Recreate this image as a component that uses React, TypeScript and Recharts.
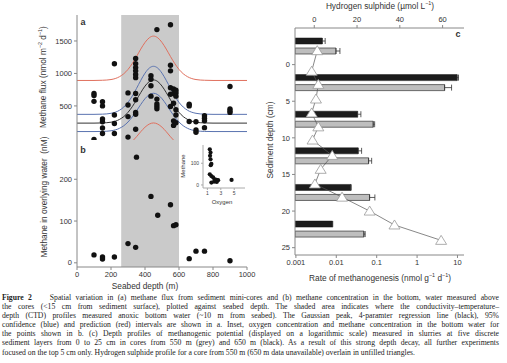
import React from 'react';
import { ComposedChart, ScatterChart, Scatter, Line, Bar, ErrorBar, XAxis, YAxis, ReferenceArea } from 'recharts';

const SANS = '"Liberation Sans", Arial, sans-serif';
const SERIF = '"Liberation Serif", "Times New Roman", serif';

// panel a: methane flux from mini-cores
const fluxDepth = [
  100, 100, 100, 100,
  150, 150, 150, 150, 150, 150,
  220, 220, 220, 220,
  300, 300, 300, 300,
  345, 345, 345, 345, 345, 345, 345, 345, 345, 345, 345,
  435, 435, 435, 435,
  470, 470, 470, 470, 470,
  550, 550, 550, 550, 550, 550,
  568, 568, 568, 568, 568,
  582, 582, 582, 582, 582, 582,
  660, 660, 660,
  700, 700, 700,
  750, 750, 750, 750,
  900, 900, 900, 900,
];
const fluxValue = [
  690, 660, 570, -15,
  565, 500, 300, 255, 160, 75,
  1150, 360, 230, 75,
  700, 515, 335, 20,
  1230, 1150, 1090, 1040, 985, 935, 690, 595, 400, 370, 140,
  965, 910, 810, 650,
  1675, 605, 530, 490, 455,
  1750, 1125, 1040, 780, 680, 490,
  760, 690, 540, 270, 200,
  740, 700, 650, 440, 360, 240,
  525, 500, 260,
  255, 130, 95,
  350, 310, 270, 165,
  800, 455, 425, 400,
];

// gaussian fit and intervals
const curveDepth = [0, 100, 150, 200, 250, 275, 300, 325, 350, 375, 400, 425, 450, 475, 500, 525, 550, 575, 600, 625, 650, 700, 750, 800, 900, 1000];
const fitCurve = [235, 235, 238, 249, 292, 335, 401, 488, 593, 705, 805, 875, 900, 875, 805, 705, 593, 488, 401, 335, 292, 249, 238, 235, 235, 235];
const ciUpper = [370, 370, 373, 386, 433, 482, 554, 652, 769, 893, 1004, 1082, 1110, 1082, 1004, 893, 769, 652, 554, 482, 433, 386, 373, 370, 370, 370];
const ciLower = [105, 105, 107, 117, 155, 194, 252, 330, 423, 522, 611, 673, 695, 673, 611, 522, 423, 330, 252, 194, 155, 117, 107, 105, 105, 105];
const piUpper = [892, 892, 895, 906, 950, 995, 1062, 1152, 1260, 1375, 1477, 1549, 1575, 1549, 1477, 1375, 1260, 1152, 1062, 995, 950, 906, 895, 892, 892, 892];
const piLower = [-223, -223, -221, -213, -184, -153, -108, -47, 25, 103, 172, 220, 238, 220, 172, 103, 25, -47, -108, -153, -184, -213, -221, -223, -223, -223];

// panel b: methane in overlying water
const waterDepth = [100, 150, 150, 220, 300, 345, 350, 435, 475, 550, 568, 582, 660, 700, 750, 900];
const waterCH4 = [19, 14, 9, 14, 46, 37, 253, 159, 114, 139, 89, 91, 10, 28, 28, 5];

// inset: oxygen vs methane
const insetO2 = [1.36, 1.47, 1.4, 1.47, 1.6, 1.5, 1.36, 1.6, 1.85, 2.1, 2.35, 2.0, 2.4, 2.6, 1.6, 4.6];
const insetCH4 = [164, 149, 134, 118, 97, 91, 49, 41, 35, 26, 23, 15, 14, 22, 11, 23];

// panel c: methanogenesis rates and sulphide
const layerDepth = [-2.5, 2.5, 7.5, 12.5, 17.5, 22.5];
const rate650 = [0.0045, 9.8, 0.0337, 0.0348, 0.023, 0.0081];
const err650 = [0.0008, 0.8, 0.0069, 0.0075, 0, 0];
const rate550 = [0.0098, 4.8, 0.082, 0.063, 0.0667, 0.0482];
const err550 = [0.0025, 2.34, 0.007, 0.012, 0.0235, 0.0037];
const sulphideDepth = [-1.9, 0.9, 2.7, 4.7, 6.6, 8.5, 10.3, 12.4, 14.3, 16.3, 18.1, 20.0, 21.9, 24.0];
const sulphide = [1.4, -1.2, 1.9, 0.8, -1.2, 1.9, -0.8, 8.4, 3.0, 0.3, 13.0, 25.9, 37.5, 59.3];

const captionLines = [
  'Spatial variation in (a) methane flux from sediment mini-cores and (b) methane concentration in the bottom, water measured above',
  'the cores (<15 cm from sediment surface), plotted against seabed depth. The shaded area indicates where the conductivity–temperature–',
  'depth (CTD) profiles measured anoxic bottom water (~10 m from seabed). The Gaussian peak, 4-paramter regression line (black), 95%',
  'confidence (blue) and prediction (red) intervals are shown in a. Inset, oxygen concentration and methane concentration in the bottom water for',
  'the points shown in b. (c) Depth profiles of methanogenic potential (displayed on a logarithmic scale) measured in slurries at five discrete',
  'sediment layers from 0 to 25 cm in cores from 550 m (grey) and 650 m (black). As a result of this strong depth decay, all further experiments',
  'focused on the top 5 cm only. Hydrogen sulphide profile for a core from 550 m (650 m data unavailable) overlain in unfilled triangles.',
];

const curveRows = curveDepth.map((depth, i) => ({
  depth, fit: fitCurve[i], ciUp: ciUpper[i], ciLo: ciLower[i], piUp: piUpper[i], piLo: piLower[i],
}));
const fluxRows = fluxDepth.map((depth, i) => ({ depth, flux: fluxValue[i] }));
const waterRows = waterDepth.map((depth, i) => ({ depth, ch4: waterCH4[i] }));
const insetRows = insetO2.map((o2, i) => ({ o2, ch4: insetCH4[i] }));
const rateRows = layerDepth.map((depth, i) => ({
  depth, black: rate650[i], blackErr: [0, err650[i]], grey: rate550[i], greyErr: [0, err550[i]],
}));
const sulphideRows = sulphideDepth.map((depth, i) => ({ depth, h2s: sulphide[i] }));

const AXIS = { stroke: '#888', strokeWidth: 1 };
const TICK = { fontSize: 7.5, fill: '#333', fontFamily: SANS };
const SMALL_TICK = { fontSize: 5, fill: '#444', fontFamily: SANS };

const dot = (r: number) => (p: any) => <circle cx={p.cx} cy={p.cy} r={r} fill="#111" />;
const triangle = (p: any) => (
  <polygon
    points={`${p.cx},${p.cy - 5} ${p.cx + 5.5},${p.cy + 4} ${p.cx - 5.5},${p.cy + 4}`}
    fill="#fff"
    stroke="#999"
    strokeWidth={0.8}
  />
);

const Txt = ({ x, y, size = 8.3, rot = false, bold = false, children }: any) => (
  <div
    style={{
      position: 'absolute', left: x, top: y, whiteSpace: 'nowrap', lineHeight: 1,
      transform: `translate(-50%, -50%)${rot ? ' rotate(-90deg)' : ''}`,
      fontSize: size, fontFamily: SANS, fontWeight: bold ? 700 : 400, color: '#333',
    }}
  >
    {children}
  </div>
);
const Sup = ({ children }: any) => <sup style={{ fontSize: '0.65em', lineHeight: 0 }}>{children}</sup>;

export default function App() {
  return (
    <div style={{ position: 'absolute', left: 0, top: 0, width: 507, height: 363, background: '#fff', overflow: 'hidden' }}>
      {/* panel a */}
      <div style={{ position: 'absolute', left: 0, top: 0 }}>
        <ComposedChart width={260} height={140} data={curveRows} margin={{ top: 15, right: 13, bottom: 0, left: 0 }}>
          <ReferenceArea x1={260} x2={600} fill="#cacaca" fillOpacity={1} stroke="none" />
          <XAxis dataKey="depth" type="number" domain={[0, 1000]} orientation="top" height={0} tick={false} tickLine={false} axisLine={AXIS} />
          <YAxis dataKey="flux" type="number" domain={[-25, 1900]} allowDataOverflow ticks={[0, 500, 1000, 1500]} width={77} tick={TICK} tickSize={3} tickMargin={2} axisLine={AXIS} tickLine={AXIS} />
          <YAxis yAxisId="frame" orientation="right" type="number" domain={[0, 1]} width={0} tick={false} tickLine={false} axisLine={AXIS} />
          <Line dataKey="piUp" type="monotone" stroke="#e0705e" strokeWidth={1} dot={false} isAnimationActive={false} />
          <Line dataKey="piLo" type="monotone" stroke="#e0705e" strokeWidth={1} dot={false} isAnimationActive={false} />
          <Line dataKey="ciUp" type="monotone" stroke="#5a73b0" strokeWidth={1} dot={false} isAnimationActive={false} />
          <Line dataKey="ciLo" type="monotone" stroke="#5a73b0" strokeWidth={1} dot={false} isAnimationActive={false} />
          <Line dataKey="fit" type="monotone" stroke="#333" strokeWidth={1} dot={false} isAnimationActive={false} />
          <Scatter data={fluxRows} dataKey="flux" shape={dot(2.7)} isAnimationActive={false} />
        </ComposedChart>
      </div>

      {/* panel b */}
      <div style={{ position: 'absolute', left: 0, top: 140 }}>
        <ComposedChart width={260} height={152} margin={{ top: 0, right: 13, bottom: 0, left: 0 }}>
          <ReferenceArea x1={260} x2={600} fill="#cacaca" fillOpacity={1} stroke="none" />
          <XAxis dataKey="depth" type="number" domain={[0, 1000]} ticks={[0, 200, 400, 600, 800, 1000]} height={25} tick={TICK} tickSize={3} tickMargin={2} axisLine={AXIS} tickLine={AXIS} />
          <XAxis xAxisId="frame" orientation="top" type="number" domain={[0, 1]} height={0} tick={false} tickLine={false} axisLine={AXIS} />
          <YAxis dataKey="ch4" type="number" domain={[-10, 294]} allowDataOverflow ticks={[0, 100, 200]} width={77} tick={TICK} tickSize={3} tickMargin={2} axisLine={AXIS} tickLine={AXIS} />
          <YAxis yAxisId="frame" orientation="right" type="number" domain={[0, 1]} width={0} tick={false} tickLine={false} axisLine={AXIS} />
          <Scatter data={waterRows} dataKey="ch4" shape={dot(2.7)} isAnimationActive={false} />
        </ComposedChart>
      </div>

      {/* inset */}
      <div style={{ position: 'absolute', left: 170, top: 140 }}>
        <ScatterChart width={80} height={70} margin={{ top: 5, right: 5, bottom: 0, left: 0 }}>
          <XAxis dataKey="o2" type="number" domain={[0.35, 6.6]} ticks={[1, 3, 5]} height={22} tick={SMALL_TICK} tickSize={2} tickMargin={1} axisLine={{ stroke: '#aaa' }} tickLine={{ stroke: '#aaa' }} />
          <XAxis xAxisId="frame" orientation="top" type="number" domain={[0, 1]} height={0} tick={false} tickLine={false} axisLine={{ stroke: '#ccc' }} />
          <YAxis dataKey="ch4" type="number" domain={[-14, 184]} ticks={[0, 100]} width={33} tick={SMALL_TICK} tickSize={2} tickMargin={2} axisLine={{ stroke: '#aaa' }} tickLine={{ stroke: '#aaa' }} />
          <YAxis yAxisId="frame" orientation="right" type="number" domain={[0, 1]} width={0} tick={false} tickLine={false} axisLine={{ stroke: '#ccc' }} />
          <Scatter data={insetRows} dataKey="ch4" shape={dot(2.1)} isAnimationActive={false} />
        </ScatterChart>
      </div>

      {/* panel c */}
      <div style={{ position: 'absolute', left: 240, top: 0 }}>
        <ComposedChart width={240} height={300} layout="vertical" data={rateRows} barGap={4} margin={{ top: 0, right: 16, bottom: 0, left: 0 }}>
          <XAxis xAxisId="rate" type="number" scale="log" domain={[0.00095, 14.5]} allowDataOverflow ticks={[0.001, 0.01, 0.1, 1, 10]} height={45} tick={TICK} tickSize={3} tickMargin={2} axisLine={AXIS} tickLine={AXIS} />
          <XAxis xAxisId="h2s" dataKey="h2s" orientation="top" type="number" domain={[-9, 70]} allowDataOverflow ticks={[0, 20, 40, 60]} height={28} tick={TICK} tickSize={3} tickMargin={3} axisLine={AXIS} tickLine={AXIS} />
          <YAxis yAxisId="depth" dataKey="depth" type="number" domain={[-5, 26]} allowDataOverflow ticks={[0, 5, 10, 15, 20, 25]} width={55} tick={TICK} tickSize={3} tickMargin={2} axisLine={AXIS} tickLine={AXIS} />
          <YAxis yAxisId="tri" dataKey="depth" type="number" domain={[-5, 26]} allowDataOverflow hide />
          <YAxis yAxisId="frame" orientation="right" type="number" domain={[0, 1]} width={0} tick={false} tickLine={false} axisLine={AXIS} />
          <Bar xAxisId="rate" yAxisId="depth" dataKey="black" barSize={6} fill="#1c1c1c" stroke="#111" strokeWidth={0.5} isAnimationActive={false}>
            <ErrorBar dataKey="blackErr" direction="x" width={3} stroke="#333" strokeWidth={0.8} />
          </Bar>
          <Bar xAxisId="rate" yAxisId="depth" dataKey="grey" barSize={6} fill="#bebebe" stroke="#333" strokeWidth={0.7} isAnimationActive={false}>
            <ErrorBar dataKey="greyErr" direction="x" width={3} stroke="#333" strokeWidth={0.8} />
          </Bar>
          <Scatter xAxisId="h2s" yAxisId="tri" data={sulphideRows} dataKey="depth" shape={triangle} line={{ stroke: '#555', strokeWidth: 0.7 }} lineType="joint" isAnimationActive={false} />
        </ComposedChart>
      </div>

      {/* axis titles and panel letters */}
      <Txt x={43} y={77} rot>Methane flux (nmol m<Sup>−2</Sup> d<Sup>−1</Sup>)</Txt>
      <Txt x={44} y={197} rot>Methane in overlying water&nbsp;&nbsp;(nM)</Txt>
      <Txt x={145} y={286}>Seabed depth (m)</Txt>
      <Txt x={83} y={22} size={9} bold>a</Txt>
      <Txt x={83} y={150} size={9} bold>b</Txt>
      <Txt x={183} y={166} size={6} rot>Methane</Txt>
      <Txt x={222} y={201.5} size={6}>Oxygen</Txt>
      <Txt x={380} y={6}>Hydrogen sulphide (µmol L<Sup>−1</Sup>)</Txt>
      <Txt x={380} y={278}>Rate of methanogenesis (nmol g<Sup>−1</Sup> d<Sup>−1</Sup>)</Txt>
      <Txt x={270} y={140} rot>Sediment depth (cm)</Txt>
      <Txt x={458} y={34} size={9} bold>c</Txt>

      {/* caption */}
      <div style={{ position: 'absolute', left: 2, top: 292.5, width: 497, fontFamily: SERIF, fontSize: 7.7, color: '#222' }}>
        {captionLines.map((line, i) => (
          <div
            key={i}
            style={{
              height: 9.2, lineHeight: '9.2px', whiteSpace: 'nowrap',
              textAlign: 'justify', textAlignLast: i < captionLines.length - 1 ? 'justify' : 'left',
            }}
          >
            {i === 0 ? <><b>Figure 2</b>&nbsp;&nbsp;&nbsp; </> : null}
            {line}
          </div>
        ))}
      </div>
    </div>
  );
}
